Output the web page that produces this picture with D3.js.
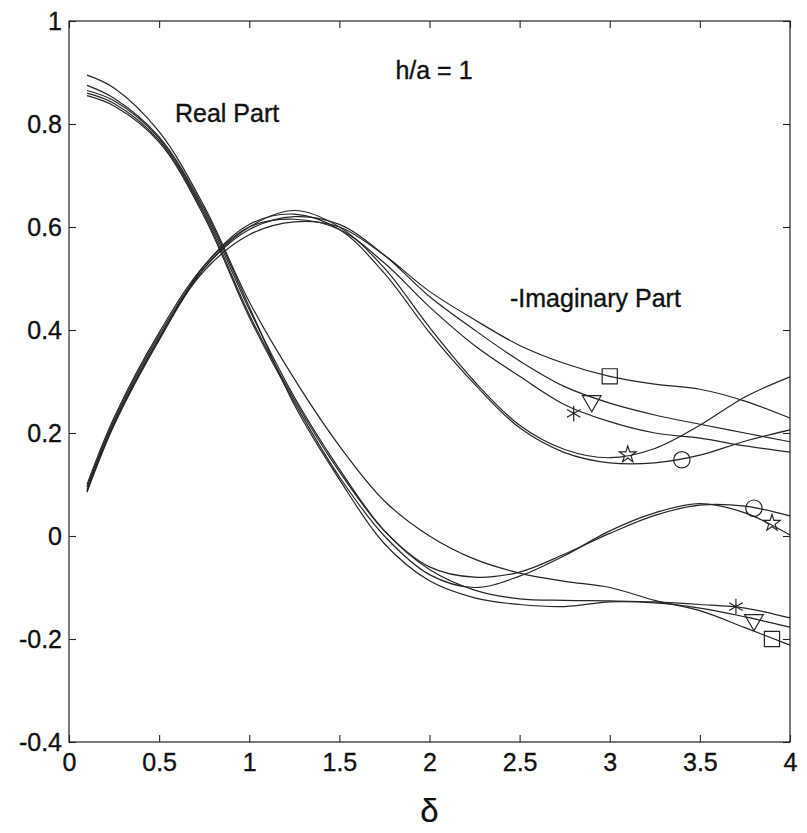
<!DOCTYPE html>
<html>
<head>
<meta charset="utf-8">
<script src="https://cdn.jsdelivr.net/npm/d3@7"></script>
<style>
  body { margin: 0; background: #fff; }
  svg text { font-family: "Liberation Sans", Arial, sans-serif; fill: #111; stroke: #111; stroke-width: 0.35px; }
</style>
</head>
<body>
<svg id="chart" width="807" height="833"></svg>
<script>
// delta values where curves are sampled
const delta = [0.1, 0.25, 0.5, 0.75, 1.0, 1.25, 1.5, 1.75, 2.0, 2.25, 2.5, 2.75, 3.0, 3.25, 3.5, 3.75, 4.0];

// Real part curves
const realSquare   = [0.895, 0.87, 0.785, 0.64, 0.455, 0.305, 0.175, 0.068, 0.0, -0.045, -0.072, -0.088, -0.10, -0.125, -0.145, -0.178, -0.212];
const realTriangle = [0.875, 0.85, 0.775, 0.635, 0.445, 0.255, 0.11, -0.015, -0.087, -0.12, -0.133, -0.137, -0.128, -0.13, -0.14, -0.157, -0.177];
const realAsterisk = [0.865, 0.845, 0.772, 0.63, 0.44, 0.27, 0.13, 0.01, -0.065, -0.105, -0.122, -0.125, -0.126, -0.128, -0.133, -0.14, -0.159];
const realCircle   = [0.86, 0.84, 0.768, 0.625, 0.43, 0.265, 0.125, 0.01, -0.06, -0.08, -0.07, -0.035, 0.005, 0.04, 0.06, 0.058, 0.039];
const realStar     = [0.855, 0.835, 0.765, 0.62, 0.425, 0.26, 0.115, 0.0, -0.075, -0.10, -0.078, -0.038, 0.01, 0.045, 0.063, 0.045, 0.002];

// -Imaginary part curves
const imagSquare   = [0.09, 0.22, 0.385, 0.515, 0.585, 0.61, 0.60, 0.545, 0.475, 0.42, 0.37, 0.335, 0.31, 0.295, 0.285, 0.262, 0.229];
const imagTriangle = [0.095, 0.225, 0.39, 0.52, 0.595, 0.62, 0.605, 0.545, 0.465, 0.40, 0.34, 0.29, 0.258, 0.235, 0.217, 0.20, 0.183];
const imagAsterisk = [0.10, 0.23, 0.395, 0.525, 0.60, 0.615, 0.595, 0.53, 0.445, 0.37, 0.31, 0.255, 0.222, 0.20, 0.19, 0.175, 0.163];
const imagStar     = [0.085, 0.215, 0.38, 0.52, 0.60, 0.632, 0.60, 0.52, 0.405, 0.30, 0.215, 0.168, 0.152, 0.17, 0.215, 0.27, 0.309];
const imagCircle   = [0.088, 0.218, 0.383, 0.525, 0.605, 0.625, 0.595, 0.51, 0.395, 0.295, 0.21, 0.162, 0.142, 0.142, 0.157, 0.184, 0.206];

// markers on the curves (delta, value)
const markerShapes = ["square", "triangle", "asterisk", "star", "circle"];
const imagMarkerX  = [3.0, 2.9, 2.8, 3.1, 3.4];
const imagMarkerY  = [0.31, 0.262, 0.238, 0.158, 0.148];
const realMarkerX  = [3.9, 3.8, 3.7, 3.9, 3.8];
const realMarkerY  = [-0.200, -0.163, -0.137, 0.025, 0.054];

const xTicks = [0, 0.5, 1, 1.5, 2, 2.5, 3, 3.5, 4];
const yTicks = [-0.4, -0.2, 0, 0.2, 0.4, 0.6, 0.8, 1];

const svg = d3.select("#chart");
const plotL = 69, plotR = 790, plotT = 21, plotB = 742;

const x = d3.scaleLinear().domain([0, 4]).range([plotL, plotR]);
const y = d3.scaleLinear().domain([-0.4, 1]).range([plotB, plotT]);

const ink = "#262626";

// frame
svg.append("rect")
    .attr("x", plotL).attr("y", plotT)
    .attr("width", plotR - plotL).attr("height", plotB - plotT)
    .attr("fill", "none").attr("stroke", ink).attr("stroke-width", 1.2);

// axes with inward ticks
const tickLen = 7;
const fmt = d => String(+d.toFixed(1));

svg.append("g")
    .attr("transform", `translate(0,${plotB})`)
    .call(d3.axisBottom(x).tickValues(xTicks).tickSize(-tickLen).tickPadding(11).tickFormat(fmt))
    .call(g => g.select(".domain").remove())
    .call(g => g.selectAll("text").style("font-size", "25px"));

svg.append("g")
    .attr("transform", `translate(0,${plotT})`)
    .call(d3.axisTop(x).tickValues(xTicks).tickSize(-tickLen).tickFormat(""))
    .call(g => g.select(".domain").remove());

svg.append("g")
    .attr("transform", `translate(${plotL},0)`)
    .call(d3.axisLeft(y).tickValues(yTicks).tickSize(-tickLen).tickPadding(7).tickFormat(fmt))
    .call(g => g.select(".domain").remove())
    .call(g => g.selectAll("text").style("font-size", "25px"));

svg.append("g")
    .attr("transform", `translate(${plotR},0)`)
    .call(d3.axisRight(y).tickValues(yTicks).tickSize(-tickLen).tickFormat(""))
    .call(g => g.select(".domain").remove());

svg.selectAll(".tick line").attr("stroke", ink).attr("stroke-width", 1.1);
svg.selectAll(".tick text").attr("fill", "#111");

// curves
const curves = [realSquare, realTriangle, realAsterisk, realCircle, realStar,
                imagSquare, imagTriangle, imagAsterisk, imagStar, imagCircle];

const line = d3.line()
    .x((d, i) => x(delta[i]))
    .y(d => y(d))
    .curve(d3.curveCatmullRom.alpha(0.5));

svg.append("g")
    .selectAll("path")
    .data(curves)
    .join("path")
    .attr("d", line)
    .attr("fill", "none")
    .attr("stroke", ink)
    .attr("stroke-width", 1.2);

// markers
const symbolType = {
    square: d3.symbolSquare,
    triangle: d3.symbolTriangle,
    asterisk: d3.symbolAsterisk,
    star: d3.symbolStar,
    circle: d3.symbolCircle
};
const symbolSize = { square: 230, triangle: 150, asterisk: 170, star: 85, circle: 210 };

function drawMarkers(xs, ys) {
    const pts = markerShapes.map((s, i) => ({ shape: s, dx: xs[i], dy: ys[i] }));
    svg.append("g")
        .selectAll("path")
        .data(pts)
        .join("path")
        .attr("d", d => d3.symbol().type(symbolType[d.shape]).size(symbolSize[d.shape])())
        .attr("transform", d => `translate(${x(d.dx)},${y(d.dy)})` + (d.shape === "triangle" ? " rotate(180)" : ""))
        .attr("fill", "none")
        .attr("stroke", ink)
        .attr("stroke-width", 1.2);
}
drawMarkers(imagMarkerX, imagMarkerY);
drawMarkers(realMarkerX, realMarkerY);

// annotations
svg.append("text").attr("x", 434).attr("y", 79).attr("text-anchor", "middle")
    .style("font-size", "25px").text("h/a = 1");
svg.append("text").attr("x", 175).attr("y", 122)
    .style("font-size", "25px").text("Real Part");
svg.append("text").attr("x", 510).attr("y", 307)
    .style("font-size", "25px").text("-Imaginary Part");
svg.append("text").attr("x", x(2)).attr("y", 822).attr("text-anchor", "middle")
    .style("font-size", "33px").style("stroke-width", "0.2px").text("δ");
</script>
</body>
</html>
